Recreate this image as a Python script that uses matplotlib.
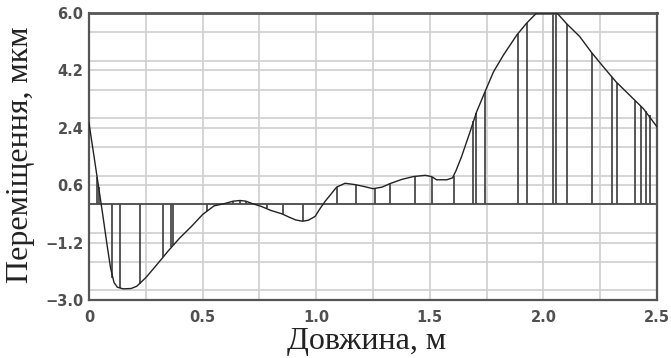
import numpy as np
import matplotlib
matplotlib.use("Agg")
import matplotlib.pyplot as plt
from matplotlib.ticker import MultipleLocator, FixedLocator

# Curve (length in m, displacement in um)
curve_x = [0.0, 0.02, 0.04, 0.06, 0.08, 0.095, 0.11, 0.125, 0.15, 0.185, 0.21, 0.25,
           0.3, 0.35, 0.4, 0.45, 0.5, 0.55, 0.6, 0.635, 0.665, 0.69, 0.72, 0.76, 0.8,
           0.85, 0.88, 0.91, 0.94, 0.965, 0.995, 1.02, 1.04, 1.065, 1.09, 1.127, 1.17,
           1.21, 1.25, 1.29, 1.325, 1.376, 1.427, 1.48, 1.508, 1.53, 1.575, 1.6, 1.615,
           1.64, 1.677, 1.706, 1.743, 1.78, 1.824, 1.883, 1.926, 1.97, 2.06, 2.1, 2.16,
           2.21, 2.264, 2.32, 2.38, 2.44, 2.5]
curve_y = [2.55, 1.6, 0.65, -0.3, -1.3, -2.0, -2.45, -2.6, -2.65, -2.64, -2.57, -2.3,
           -1.88, -1.45, -1.05, -0.7, -0.32, -0.05, 0.03, 0.1, 0.12, 0.1, 0.02, -0.07, -0.19,
           -0.3, -0.4, -0.49, -0.53, -0.5, -0.38, -0.1, 0.1, 0.32, 0.54, 0.66, 0.62,
           0.56, 0.49, 0.54, 0.65, 0.78, 0.87, 0.91, 0.87, 0.77, 0.77, 0.83, 1.05,
           1.5, 2.27, 2.9, 3.53, 4.15, 4.68, 5.31, 5.68, 6.0, 6.0, 5.68, 5.26,
           4.78, 4.31, 3.84, 3.42, 3.0, 2.43]

# Vertical stems (position, value)
stem_x = [0.037, 0.042, 0.10, 0.137, 0.225, 0.327, 0.362, 0.370, 0.518, 0.634, 0.665,
          0.69, 0.782, 0.855, 0.943, 1.093, 1.175, 1.259, 1.325, 1.435, 1.508, 1.607,
          1.692, 1.703, 1.743, 1.887, 1.926, 2.041, 2.056, 2.102, 2.213, 2.30, 2.323,
          2.405, 2.43, 2.452, 2.47]
stem_y = [0.85, 0.55, -2.3, -2.63, -2.5, -1.65, -1.35, -1.28, -0.22, 0.1, 0.12,
          0.1, -0.13, -0.31, -0.53, 0.55, 0.62, 0.5, 0.65, 0.88, 0.87, 0.9,
          2.6, 2.85, 3.53, 5.35, 5.68, 6.0, 6.0, 5.67, 4.76, 4.0, 3.82,
          3.25, 3.08, 2.92, 2.8]

y_ticks = [-3.0, -1.2, 0.6, 2.4, 4.2, 6.0]
x_ticks = [0, 0.5, 1.0, 1.5, 2.0, 2.5]
x_ticklabels = ["0", "0.5", "1.0", "1.5", "2.0", "2.5"]

fig = plt.figure(figsize=(6.71, 3.58), dpi=100)
ax = fig.add_axes([89/671, 1-300/358, (657-89)/671, (300-13)/358])

ax.set_xlim(0, 2.5)
ax.set_ylim(-3.0, 6.0)

ax.xaxis.set_major_locator(FixedLocator(x_ticks))
ax.set_xticklabels(x_ticklabels)
ax.xaxis.set_minor_locator(MultipleLocator(0.25))
ax.yaxis.set_major_locator(FixedLocator(y_ticks))
ax.set_yticklabels([f"{v:.1f}".replace("-", "\u2212") for v in y_ticks])
ax.yaxis.set_minor_locator(MultipleLocator(0.9))

ax.grid(True, which="both", color="#d2d2d2", linewidth=1.3, zorder=0)
ax.set_axisbelow(True)

ax.axhline(0, color="#555555", linewidth=1.4, zorder=2)

ax.vlines(stem_x, 0, stem_y, colors="#4a4a4a", linewidth=1.3, zorder=3)
ax.plot(curve_x, curve_y, color="#222222", linewidth=1.0, zorder=4)

for s in ax.spines.values():
    s.set_color("#555555")
    s.set_linewidth(1.6)
ax.spines["top"].set_linewidth(2.0)

ax.tick_params(which="both", length=0)
ax.tick_params(axis="y", pad=4)
ax.tick_params(axis="x", pad=7)
for lab in ax.get_xticklabels() + ax.get_yticklabels():
    lab.set_fontfamily("DejaVu Sans")
    lab.set_fontsize(10.5)
    lab.set_fontweight("bold")
    lab.set_color("#505050")

fig.text(367/671, 1-349/358, "Довжина, м", fontfamily="Liberation Serif", fontsize=23,
         color="#222222", ha="center", va="baseline")
fig.text(28/671, 1-155/358, "Переміщення, мкм", fontfamily="Liberation Serif", fontsize=23,
         color="#222222", ha="center", va="baseline", rotation=90, rotation_mode="anchor")

fig.savefig("out.png", dpi=100)
